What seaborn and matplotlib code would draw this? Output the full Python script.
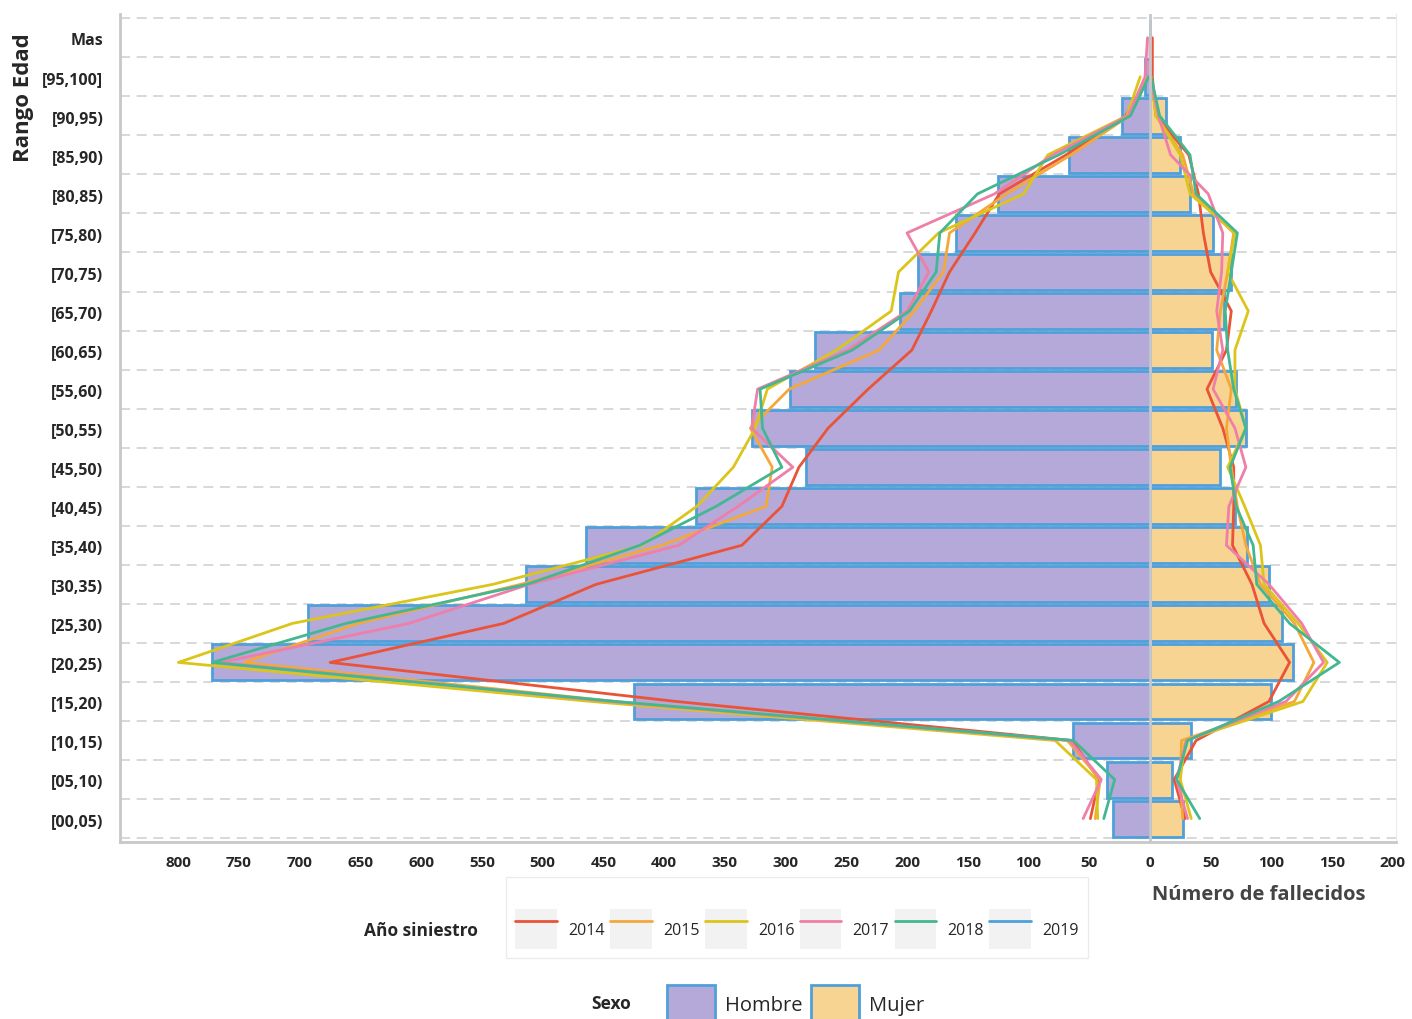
import numpy as np
import pandas as pd
import seaborn as sns
import matplotlib.pyplot as plt
from matplotlib.patches import Patch
from matplotlib.lines import Line2D
from matplotlib.legend_handler import HandlerTuple

# rangos de edad (de arriba hacia abajo)
rangos = ["Mas", "[95,100]", "[90,95)", "[85,90)", "[80,85)", "[75,80)", "[70,75)",
          "[65,70)", "[60,65)", "[55,60)", "[50,55)", "[45,50)", "[40,45)", "[35,40)",
          "[30,35)", "[25,30)", "[20,25)", "[15,20)", "[10,15)", "[05,10)", "[00,05)"]

anios = ["2014", "2015", "2016", "2017", "2018", "2019"]

# barras: año 2019
hombre_2019 = [0, 4, 23, 67, 125, 160, 191, 206, 276, 296, 328, 283, 374, 464, 514, 693, 772, 425, 63, 35, 30]
mujer_2019 = [0, 1, 13, 25, 33, 52, 67, 61, 51, 71, 79, 58, 70, 80, 98, 109, 118, 100, 34, 18, 27]

# lineas por año (Hombre)
hombre_2014 = [None, 1, 20, 69, 124, 144, 165, 180, 196, 232, 265, 289, 303, 336, 456, 532, 675, 390, 64, 42, 49]
hombre_2015 = [None, 3, 17, 65, 118, 165, 170, 194, 223, 297, 329, 311, 316, 402, 518, 652, 746, 440, 68, 41, 45]
hombre_2016 = [None, 8, 19, 84, 104, 174, 207, 213, 258, 315, 325, 343, 373, 418, 541, 706, 800, 460, 78, 44, 43]
hombre_2017 = [2, 4, 18, 80, 128, 200, 182, 200, 249, 323, 328, 294, 339, 388, 511, 610, 765, 445, 66, 40, 55]
hombre_2018 = [None, 1, 16, 75, 142, 173, 176, 198, 245, 321, 319, 303, 357, 420, 513, 662, 772, 440, 63, 29, 38]

# lineas por año (Mujer)
mujer_2014 = [2, 2, 5, 32, 40, 44, 50, 67, 63, 47, 60, 69, 69, 68, 84, 94, 115, 98, 38, 20, 29]
mujer_2015 = [None, 1, 5, 27, 36, 69, 64, 58, 55, 67, 63, 67, 72, 79, 91, 119, 135, 119, 26, 25, 27]
mujer_2016 = [None, 1, 5, 25, 33, 70, 64, 81, 70, 70, 79, 64, 78, 91, 94, 122, 146, 126, 29, 25, 34]
mujer_2017 = [0, 0, 7, 17, 48, 60, 59, 55, 60, 52, 70, 79, 65, 63, 98, 125, 143, 112, 30, 22, 31]
mujer_2018 = [None, 1, 8, 33, 38, 72, 67, 62, 64, 69, 79, 66, 71, 85, 88, 115, 156, 106, 31, 22, 41]

colores_anio = {"2014": "#ea5338", "2015": "#f5a83a", "2016": "#dcc51a",
                "2017": "#ef7fa9", "2018": "#43b792", "2019": "#4f9fdb"}
c_hombre = "#b5a9da"
c_mujer = "#f7d492"
c_borde = "#4f9fdb"

# ---- data frames ----
df_bar = pd.DataFrame({
    "rango": rangos * 2,
    "valor": [-v for v in hombre_2019] + mujer_2019,
    "sexo": ["Hombre"] * len(rangos) + ["Mujer"] * len(rangos),
})

lineas = {("Hombre", "2014"): hombre_2014, ("Hombre", "2015"): hombre_2015,
          ("Hombre", "2016"): hombre_2016, ("Hombre", "2017"): hombre_2017,
          ("Hombre", "2018"): hombre_2018,
          ("Mujer", "2014"): mujer_2014, ("Mujer", "2015"): mujer_2015,
          ("Mujer", "2016"): mujer_2016, ("Mujer", "2017"): mujer_2017,
          ("Mujer", "2018"): mujer_2018}
filas = []
for (sexo, anio), vals in lineas.items():
    signo = -1 if sexo == "Hombre" else 1
    for i, v in enumerate(vals):
        if v is not None:
            filas.append([sexo, anio, i, signo * v])
df_lin = pd.DataFrame(filas, columns=["sexo", "anio", "pos", "valor"])

# ---- grafico ----
sns.set_style("white")
plt.rcParams["font.family"] = ["Open Sans", "DejaVu Sans"]

fig = plt.figure(figsize=(14.12, 10.2), dpi=100)
ax = fig.add_axes([0.085, 0.1735, 0.904, 0.8115])

sns.barplot(data=df_bar, x="valor", y="rango", hue="sexo", order=rangos,
            palette={"Hombre": c_hombre, "Mujer": c_mujer}, dodge=False,
            saturation=1, width=0.92, edgecolor=c_borde, linewidth=2,
            legend=False, ax=ax, zorder=2)

sns.lineplot(data=df_lin, x="valor", y="pos", hue="anio", units="sexo",
             estimator=None, orient="y", palette=colores_anio, linewidth=2,
             legend=False, ax=ax, zorder=3)

ax.axvline(0, color="#c8c8c8", lw=2, zorder=4)

for yy in np.arange(-0.5, len(rangos), 1.0):
    ax.axhline(yy, color="#d2d2d2", lw=1.2, dashes=(6, 4), zorder=1)

ax.set_xlim(-848, 203)
ax.set_ylim(len(rangos) - 0.4, -0.6)
ticks = np.arange(-800, 201, 50)
ax.set_xticks(ticks)
ax.set_xticklabels([str(abs(t)) for t in ticks], fontsize=11, fontweight="bold")
ax.tick_params(axis="x", length=5, width=1.5, color="#333333", pad=4)
ax.tick_params(axis="y", length=0, pad=12)
for lab in ax.get_yticklabels():
    lab.set_fontweight("bold")
    lab.set_fontsize(11.5)
ax.set_xlabel("")
ax.set_ylabel("")

for s in ["left", "bottom"]:
    ax.spines[s].set_color("#c8c8c8")
    ax.spines[s].set_linewidth(2)
ax.spines["right"].set_color("#ececec")
ax.spines["top"].set_visible(False)

fig.text(0.0165, 0.904, "Rango Edad", rotation=90, ha="center", va="center",
         fontsize=16, fontweight="bold")
fig.text(0.967, 0.1225, "Número de fallecidos", ha="right", va="center",
         fontsize=14.5, fontweight="bold", color="#444444")

# leyenda de años
handles = [(Patch(facecolor="#f2f2f2", edgecolor="none"),
            Line2D([0], [0], color=colores_anio[a], lw=2)) for a in anios]
leg1 = fig.legend(handles, anios, handler_map={tuple: HandlerTuple(ndivide=1, pad=0)},
                  ncol=6, loc="center", bbox_to_anchor=(0.5645, 0.0995),
                  frameon=True, fancybox=False, edgecolor="#e6e6e6",
                  title=" ", title_fontsize=11,
                  handlelength=2.6, handleheight=3.4, columnspacing=0.35,
                  handletextpad=0.7, fontsize=11.5, borderpad=0.6)
fig.text(0.298, 0.087, "Año siniestro", ha="center", va="center",
         fontsize=12.5, fontweight="bold")

# leyenda de sexo
h2 = [Patch(facecolor=c_hombre, edgecolor=c_borde, lw=2),
      Patch(facecolor=c_mujer, edgecolor=c_borde, lw=2)]
fig.legend(h2, ["Hombre", "Mujer"], ncol=2, loc="upper left",
           bbox_to_anchor=(0.465, 0.043), frameon=False, handlelength=2.4,
           handleheight=2.4, columnspacing=0.4, handletextpad=0.5,
           fontsize=14.5, borderpad=0)
fig.text(0.433, 0.0157, "Sexo", ha="center", va="center",
         fontsize=12.5, fontweight="bold")

fig.savefig("out.png", dpi=100)
